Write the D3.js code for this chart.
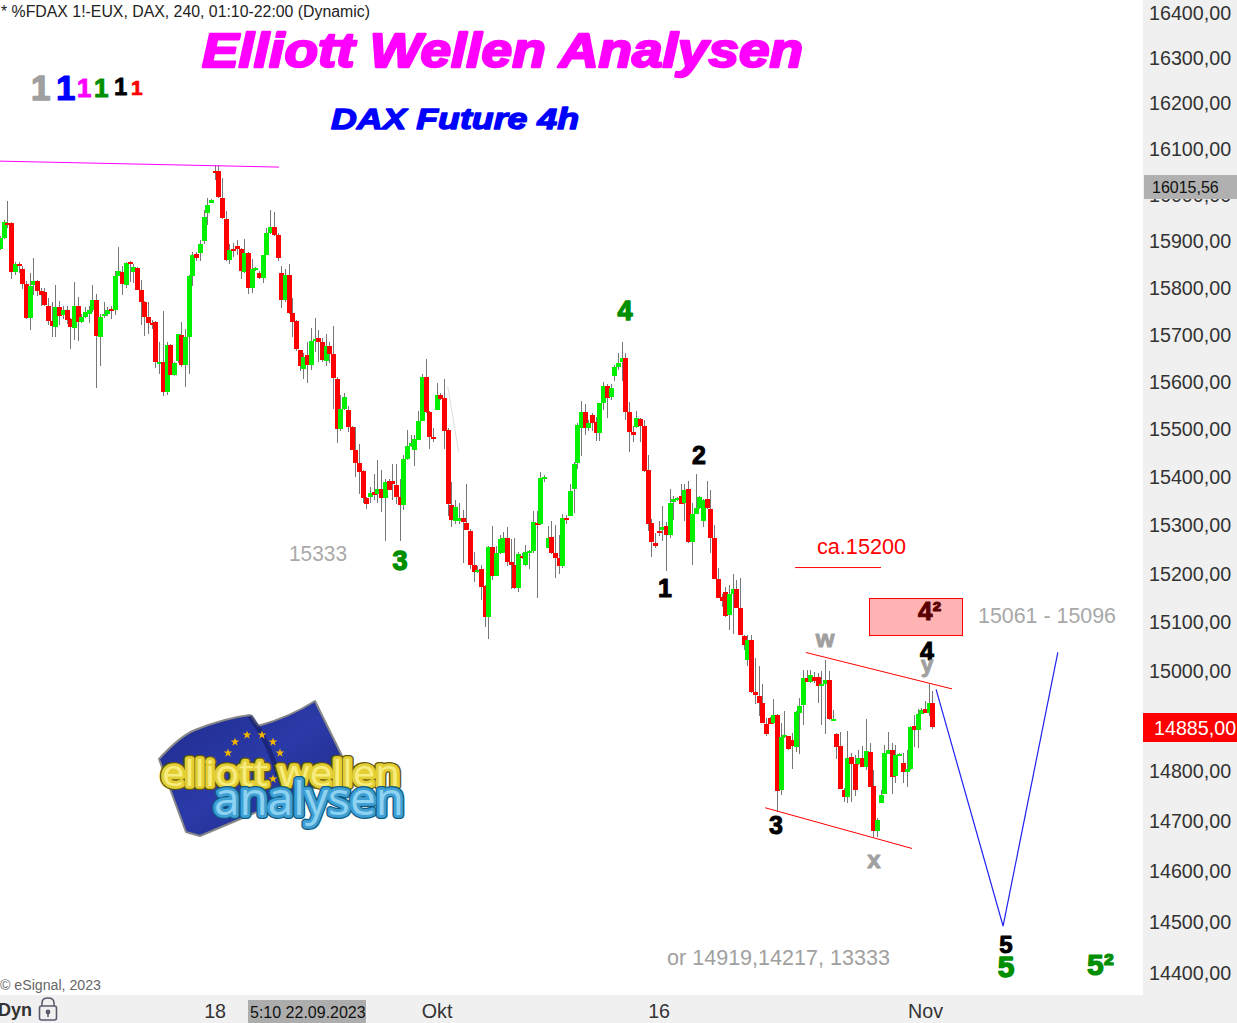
<!DOCTYPE html>
<html><head><meta charset="utf-8">
<script src="https://cdn.jsdelivr.net/npm/d3@7/dist/d3.min.js"></script>
<style>
html,body{margin:0;padding:0;background:#fff;overflow:hidden}
svg{display:block;font-family:"Liberation Sans",Arial,sans-serif}
</style></head><body>
<svg id="c" width="1237" height="1023"></svg>
<script>
const opens=[15882,15905,15937,15937,15833,15849,15839,15807,15734,15805,
15813,15792,15790,15760,15728,15715,15758,15740,15751,15732,
15713,15760,15725,15736,15743,15751,15773,15693,15738,15743,
15753,15751,15824,15833,15805,15854,15833,15841,15794,15768,
15736,15723,15725,15636,15640,15578,15676,15614,15642,15698,
15635,15693,15824,15871,15873,15899,15959,15982,16051,16051,
15993,15946,15858,15882,15888,15882,15833,15873,15798,15837,
15830,15820,15869,15916,15929,15912,15830,15773,15826,15745,
15728,15667,15626,15656,15635,15686,15692,15684,15643,15675,
15658,15605,15500,15542,15540,15504,15456,15429,15412,15355,
15358,15368,15364,15374,15355,15391,15391,15382,15358,15341,
15437,15463,15456,15477,15517,15609,15536,15483,15540,15571,
15565,15498,15341,15308,15308,15314,15304,15287,15217,15201,
15209,15174,15110,15254,15194,15240,15242,15271,15223,15217,
15168,15234,15217,15242,15246,15304,15300,15395,15252,15275,
15242,15230,15215,15314,15318,15374,15427,15502,15534,15502,
15529,15513,15490,15553,15590,15567,15611,15630,15641,15649,
15534,15492,15504,15521,15506,15414,15304,15261,15287,15289,
15296,15279,15347,15351,15360,15345,15374,15263,15322,15335,
15308,15353,15333,15273,15188,15151,15161,15114,15157,15166,
15128,15071,15021,15063,14956,14948,14934,14893,14905,14895,
14911,14759,14865,14867,14859,14845,14915,14930,14986,14978,
14988,14988,14968,14972,14982,14899,14871,14847,14760,14746,
14826,14812,14812,14824,14806,14836,14768,14677,14734,14752,
14832,14840,14788,14828,14814,14796,14802,14887,14879,14913,
14923,14915,14934];
const highs=[15909,15944,15985,15940,15853,15853,15846,15814,15830,15863,
15816,15798,15798,15777,15768,15805,15770,15760,15760,15735,
15811,15779,15743,15757,15760,15805,15785,15743,15768,15758,
15760,15835,15886,15846,15853,15857,15850,15843,15816,15771,
15769,15730,15728,15683,15749,15683,15678,15640,15701,15725,
15710,15826,15875,15875,15902,15967,15993,15989,16064,16064,
16036,15963,15892,15894,15902,15885,15903,15875,15860,15843,
15835,15860,15927,15965,15961,15917,15845,15839,15850,15777,
15730,15667,15660,15684,15713,15735,15709,15692,15700,15684,
15716,15609,15571,15574,15548,15506,15504,15467,15413,15357,
15378,15406,15435,15414,15395,15395,15425,15425,15395,15445,
15498,15487,15487,15538,15616,15647,15537,15502,15597,15575,
15605,15502,15389,15350,15345,15331,15385,15291,15244,15214,
15217,15175,15256,15296,15256,15279,15285,15294,15269,15271,
15244,15241,15258,15248,15327,15329,15410,15403,15296,15308,
15298,15279,15322,15320,15384,15431,15512,15559,15551,15519,
15532,15525,15553,15599,15593,15593,15634,15660,15683,15660,
15557,15506,15538,15523,15519,15445,15312,15282,15308,15339,
15306,15374,15360,15358,15385,15385,15391,15344,15406,15359,
15353,15391,15372,15298,15211,15157,15171,15176,15197,15186,
15190,15073,15073,15073,15026,15009,14972,14905,14906,14942,
14913,14895,14919,14868,14874,14919,14945,15002,15002,15002,
14998,14996,14999,15021,14999,14921,14874,14876,14764,14877,
14834,14830,14840,14847,14903,14854,14800,14703,14760,14850,
14876,14854,14850,14833,14834,14840,14888,14911,14923,14925,
14938,14973,14958];
const lows=[15880,15903,15928,15818,15826,15830,15796,15732,15708,15783,
15782,15760,15760,15719,15694,15694,15719,15732,15721,15668,
15687,15685,15723,15734,15723,15746,15586,15632,15735,15739,
15732,15740,15823,15783,15799,15810,15809,15793,15719,15695,
15700,15710,15627,15616,15569,15571,15612,15610,15639,15630,
15588,15615,15803,15855,15855,15892,15933,15981,16030,15991,
15947,15857,15850,15864,15868,15818,15830,15785,15788,15835,
15818,15809,15868,15915,15910,15856,15755,15768,15743,15693,
15664,15622,15605,15597,15624,15662,15641,15641,15633,15639,
15541,15469,15494,15540,15492,15455,15399,15364,15345,15333,
15344,15351,15345,15325,15265,15371,15351,15343,15265,15331,
15435,15461,15422,15476,15516,15533,15458,15471,15539,15561,
15458,15318,15294,15300,15300,15221,15288,15207,15182,15199,
15145,15089,15064,15186,15193,15238,15240,15214,15166,15166,
15161,15228,15214,15207,15241,15149,15298,15389,15251,15238,
15190,15197,15211,15300,15317,15324,15416,15443,15487,15496,
15494,15475,15473,15540,15523,15561,15601,15624,15601,15519,
15450,15471,15501,15471,15410,15287,15232,15252,15277,15265,
15203,15273,15310,15349,15342,15308,15261,15217,15321,15333,
15294,15333,15242,15188,15148,15130,15110,15083,15075,15127,
15072,15043,15009,14955,14932,14908,14894,14868,14892,14893,
14715,14749,14863,14839,14802,14836,14832,14889,14977,14975,
14975,14935,14891,14871,14901,14898,14822,14761,14736,14733,
14736,14747,14810,14805,14800,14765,14666,14666,14733,14751,
14831,14752,14773,14827,14773,14766,14800,14845,14844,14912,
14914,14908,14881];
const closes=[15905,15939,15934,15833,15849,15846,15807,15734,15803,15813,
15792,15783,15762,15728,15717,15758,15738,15751,15730,15715,
15760,15725,15736,15747,15751,15773,15695,15736,15743,15751,
15749,15824,15835,15807,15852,15850,15843,15794,15768,15736,
15723,15719,15640,15640,15578,15676,15614,15638,15700,15635,
15693,15824,15869,15863,15892,15950,15976,15987,16047,15995,
15948,15858,15880,15878,15882,15835,15873,15798,15839,15841,
15820,15869,15916,15929,15912,15863,15773,15826,15745,15725,
15668,15633,15652,15635,15686,15690,15682,15645,15675,15658,
15607,15500,15542,15567,15504,15456,15427,15410,15355,15343,
15366,15362,15374,15355,15389,15372,15385,15358,15341,15437,
15464,15469,15479,15517,15609,15534,15483,15479,15571,15563,
15496,15343,15310,15337,15313,15306,15289,15217,15201,15205,
15172,15110,15254,15194,15240,15269,15273,15223,15217,15168,
15238,15230,15244,15246,15306,15300,15397,15399,15273,15242,
15230,15215,15314,15310,15370,15425,15508,15534,15502,15511,
15511,15490,15553,15590,15565,15586,15630,15639,15649,15534,
15492,15487,15523,15506,15412,15302,15263,15256,15283,15294,
15279,15345,15353,15355,15343,15372,15263,15322,15335,15358,
15351,15335,15273,15188,15149,15143,15112,15157,15166,15128,
15073,15053,15063,14956,14950,14934,14895,14871,14893,14911,
14757,14865,14869,14841,14847,14917,14928,14986,14978,14992,
14980,14968,14972,14982,14903,14903,14845,14762,14746,14824,
14812,14760,14824,14806,14838,14766,14677,14700,14750,14834,
14840,14786,14830,14832,14796,14802,14885,14879,14913,14920,
14915,14934,14885];

const priceTicks=[14400,14500,14600,14700,14800,14900,15000,15100,15200,15300,15400,15500,15600,15700,15800,15900,16000,16100,16200,16300,16400];
const dateTickBars=[58,118,178,250];
const dateTickLabels=["18","Okt","16","Nov"];
const lastPrice=14885, cursorPrice="16015,56", cursorDate="5:10 22.09.2023";

// drawn lines as [bar index, price]
const resistanceLine=[[0,16072],[75.4,16059]];
const faintLine=[[121,15589],[124,15450]];
const targetLine=[[214.9,15211],[238.1,15211]];
const upperChannel=[[217.8,15037],[257.3,14963]];
const lowerChannel=[[206.8,14724],[246.5,14643]];
const projection=[[253,14962],[271.1,14490],[285.9,15037]];
const targetBox={bars:[234.9,260],prices:[15148,15072]};

const W=1237,H=1023,plotR=1143,plotB=995;
const svg=d3.select("#c");
const x=d3.scaleLinear().domain([0,252]).range([0,932.4]);
const y=d3.scaleLog().domain([14400,16400]).range([972,12]);
const line=d3.line().x(d=>x(d[0])).y(d=>y(d[1]));

svg.append("rect").attr("width",W).attr("height",H).attr("fill","#fff");
svg.append("defs").append("clipPath").attr("id","plot").append("rect").attr("width",plotR).attr("height",plotB);
const plot=svg.append("g").attr("clip-path","url(#plot)");

// candles
const bars=d3.range(opens.length);
const cg=plot.append("g").selectAll("g").data(bars).join("g");
cg.append("rect").attr("x",i=>Math.round(x(i))).attr("width",1)
  .attr("y",i=>Math.round(y(highs[i]))).attr("height",i=>Math.max(1,Math.round(y(lows[i]))-Math.round(y(highs[i]))))
  .attr("fill","#777");
cg.append("rect").attr("x",i=>Math.round(x(i))-2).attr("width",5)
  .attr("y",i=>Math.round(y(Math.max(opens[i],closes[i]))))
  .attr("height",i=>Math.max(2,Math.round(y(Math.min(opens[i],closes[i])))-Math.round(y(Math.max(opens[i],closes[i])))))
  .attr("fill",i=>closes[i]<opens[i]?"#ff0000":"#00f000");

// drawings
const drawLine=(d,c,w)=>plot.append("path").attr("d",line(d)).attr("fill","none").attr("stroke",c).attr("stroke-width",w||1);
drawLine(resistanceLine,"#ff00ff",1);
drawLine(faintLine,"#dddddd",1);
drawLine(targetLine,"#ff0000",1);
drawLine(upperChannel,"#ff0000",1);
drawLine(lowerChannel,"#ff0000",1);
drawLine(projection,"#2222ee",1.2);
plot.append("rect").attr("x",Math.round(x(targetBox.bars[0]))+.5).attr("width",Math.round(x(targetBox.bars[1])-x(targetBox.bars[0])))
  .attr("y",Math.round(y(targetBox.prices[0]))+.5).attr("height",Math.round(y(targetBox.prices[1])-y(targetBox.prices[0])))
  .attr("fill","#ffb3b3").attr("stroke","#ff0000");

// text helper
function T(t,px,py,size,fill,opt={}){
  const e=svg.append("text").attr("x",px).attr("y",py).attr("font-size",size).attr("fill",fill).text(t);
  if(opt.anchor)e.attr("text-anchor",opt.anchor);
  if(opt.bold)e.attr("font-weight","bold");
  if(opt.italic)e.attr("font-style","italic");
  if(opt.stroke)e.attr("stroke",fill).attr("stroke-width",opt.stroke).attr("stroke-linejoin","round");
  if(opt.len)e.attr("textLength",opt.len).attr("lengthAdjust","spacingAndGlyphs");
  return e;
}
T("* %FDAX 1!-EUX, DAX, 240, 01:10-22:00 (Dynamic)",1,17,16,"#222",{len:369});
T("Elliott Wellen Analysen",202,67,49,"#ff00ff",{bold:1,italic:1,stroke:2.4,len:601});
T("DAX Future 4h",331,129,30,"#0000ff",{bold:1,italic:1,stroke:1.4,len:248});
[["#a0a0a0",31,100,35,17,1.5],["#0000ff",56,100,35,14,1.2],["#ff00ff",77,97,26,13,1],["#008f00",94,97,26,13,1],["#000",114,95,24,11,.8],["#ff0000",131,95,21,10,.7]]
 .forEach(d=>T("1",d[1],d[2],d[3],d[0],{bold:1,stroke:d[5],anchor:"start"}));

T("15333",289,561,21.4,"#aaaaaa",{len:58});
T("ca.15200",817,554,21.6,"#ff0000",{len:89});
T("15061 - 15096",978,623,21.6,"#a8a8a8",{len:138});
T("or 14919,14217, 13333",667,965,21.6,"#a0a0a0",{len:223});

const G="#008f00",K="#000",Y="#a0a0a0";
[["4",625,320,27,G,1.4],["3",400,570,27,G,1.4],["2",699,464,25,K,1],["1",665,597,25,K,1],["3",776,834,25,K,1],["4",927,660,25,K,1],
 ["y",927,672,22,Y,1],["w",825,647,24,Y,1],["x",874,868,24,Y,1],["5",1006,953,24,K,1],["5",1006,977,30,G,1.4]]
 .forEach(d=>T(d[0],d[1],d[2],d[3],d[4],{bold:1,stroke:d[5],anchor:"middle"}));
T("5²",1087,975,30,G,{bold:1,stroke:1.2});
T("4²",918,620,26,"#5a0000",{bold:1,stroke:1});

// logo
const lg=svg.append("g");
const defs=svg.select("defs");
const grad=defs.append("linearGradient").attr("id","flag").attr("x1",0).attr("y1",0).attr("x2",1).attr("y2",1);
grad.append("stop").attr("offset",0).attr("stop-color","#1f2a8c");
grad.append("stop").attr("offset",.5).attr("stop-color","#2a3aa8");
grad.append("stop").attr("offset",1).attr("stop-color","#1c2580");
lg.append("path").attr("d","M159 759 Q180 736 195 730 Q225 718 250 715 L258 726 Q290 717 315 701 L346 764 L345 775 L200 836 L186 832 Z")
  .attr("fill","url(#flag)").attr("stroke","#888").attr("stroke-width",2).attr("stroke-linejoin","round");
lg.append("path").attr("d","M250 716 Q268 740 278 775").attr("fill","none").attr("stroke","#141a60").attr("stroke-width",5).attr("opacity",.6);
[[235,742],[247,735],[262,735],[273,742],[280,753],[278,767],[273,779],[235,777],[228,753]].forEach(d=>{
  lg.append("path").attr("d",d3.symbol(d3.symbolStar,24)()).attr("transform",`translate(${d[0]},${d[1]})`).attr("fill","#f4b400");
});
function logoText(t,px,py,size,len,fill,dark,hi){
  const base=()=>lg.append("text").attr("x",px).attr("y",py).attr("font-family","'Open Sans','Liberation Sans',sans-serif").attr("font-size",size)
      .attr("textLength",len).attr("lengthAdjust","spacingAndGlyphs").text(t);
  [[8,dark],[5.5,fill]].forEach(s=>base().attr("fill",s[1]).attr("stroke",s[1]).attr("stroke-width",s[0]).attr("stroke-linejoin","round"));
  base().attr("fill",hi);
}
logoText("elliott wellen",162,786,36,238,"#e3cf35","#5f570e","#f7ec80");
logoText("analysen",214,815,45,190,"#3f9fd2","#0e5c84","#8ed2f2");

// right axis panel
svg.append("rect").attr("x",plotR).attr("width",W-plotR).attr("height",H).attr("fill","#f0f0f0");
const fmt=d3.formatLocale({decimal:",",thousands:"",grouping:[3],currency:["",""]}).format(".2f");
const ya=svg.append("g").attr("transform",`translate(${plotR},1)`)
  .call(d3.axisRight(y).tickValues(priceTicks).tickFormat(fmt).tickSize(0).tickPadding(6));
ya.select(".domain").remove();
ya.selectAll("text").attr("font-family",'"Liberation Sans",Arial,sans-serif').attr("font-size",19.7).attr("fill","#333");

// bottom axis panel
svg.append("rect").attr("y",plotB).attr("width",W).attr("height",H-plotB).attr("fill","#f0f0f0");
const xa=svg.append("g").attr("transform",`translate(0,${plotB})`)
  .call(d3.axisBottom(x).tickValues(dateTickBars).tickFormat((d,i)=>dateTickLabels[i]).tickSize(0).tickPadding(9));
xa.select(".domain").remove();
xa.selectAll("text").attr("font-family",'"Liberation Sans",Arial,sans-serif').attr("font-size",19.7).attr("fill","#333");
T("© eSignal, 2023",0,990,14,"#666",{len:101});
T("Dyn",-2,1016,18,"#333",{bold:1});
// lock
const lk=svg.append("g").attr("fill","none").attr("stroke","#5a5a6e").attr("stroke-width",1.6);
lk.append("path").attr("d","M42 1006 V1003 Q42 998 48 998 Q54 998 54 1003 V1006");
lk.append("rect").attr("x",39.5).attr("y",1006).attr("width",17).attr("height",14).attr("rx",2);
lk.append("circle").attr("cx",48).attr("cy",1012).attr("r",1.6).attr("fill","#5a5a6e");
lk.append("line").attr("x1",48).attr("x2",48).attr("y1",1012).attr("y2",1017);

// cursor & last price labels
svg.append("rect").attr("x",248).attr("y",1000).attr("width",118).attr("height",23).attr("fill","#adadad");
T(cursorDate,250,1018,16,"#111");
svg.append("rect").attr("x",1144).attr("y",175).attr("width",93).attr("height",24).attr("fill","#b0b0b0");
T(cursorPrice,1152,193,16,"#111");
svg.append("rect").attr("x",plotR).attr("y",Math.round(y(lastPrice))-14).attr("width",W-plotR).attr("height",29).attr("fill","#ff0000");
T(fmt(lastPrice),1154,Math.round(y(lastPrice))+8,19.7,"#fff");
</script>
</body></html>
